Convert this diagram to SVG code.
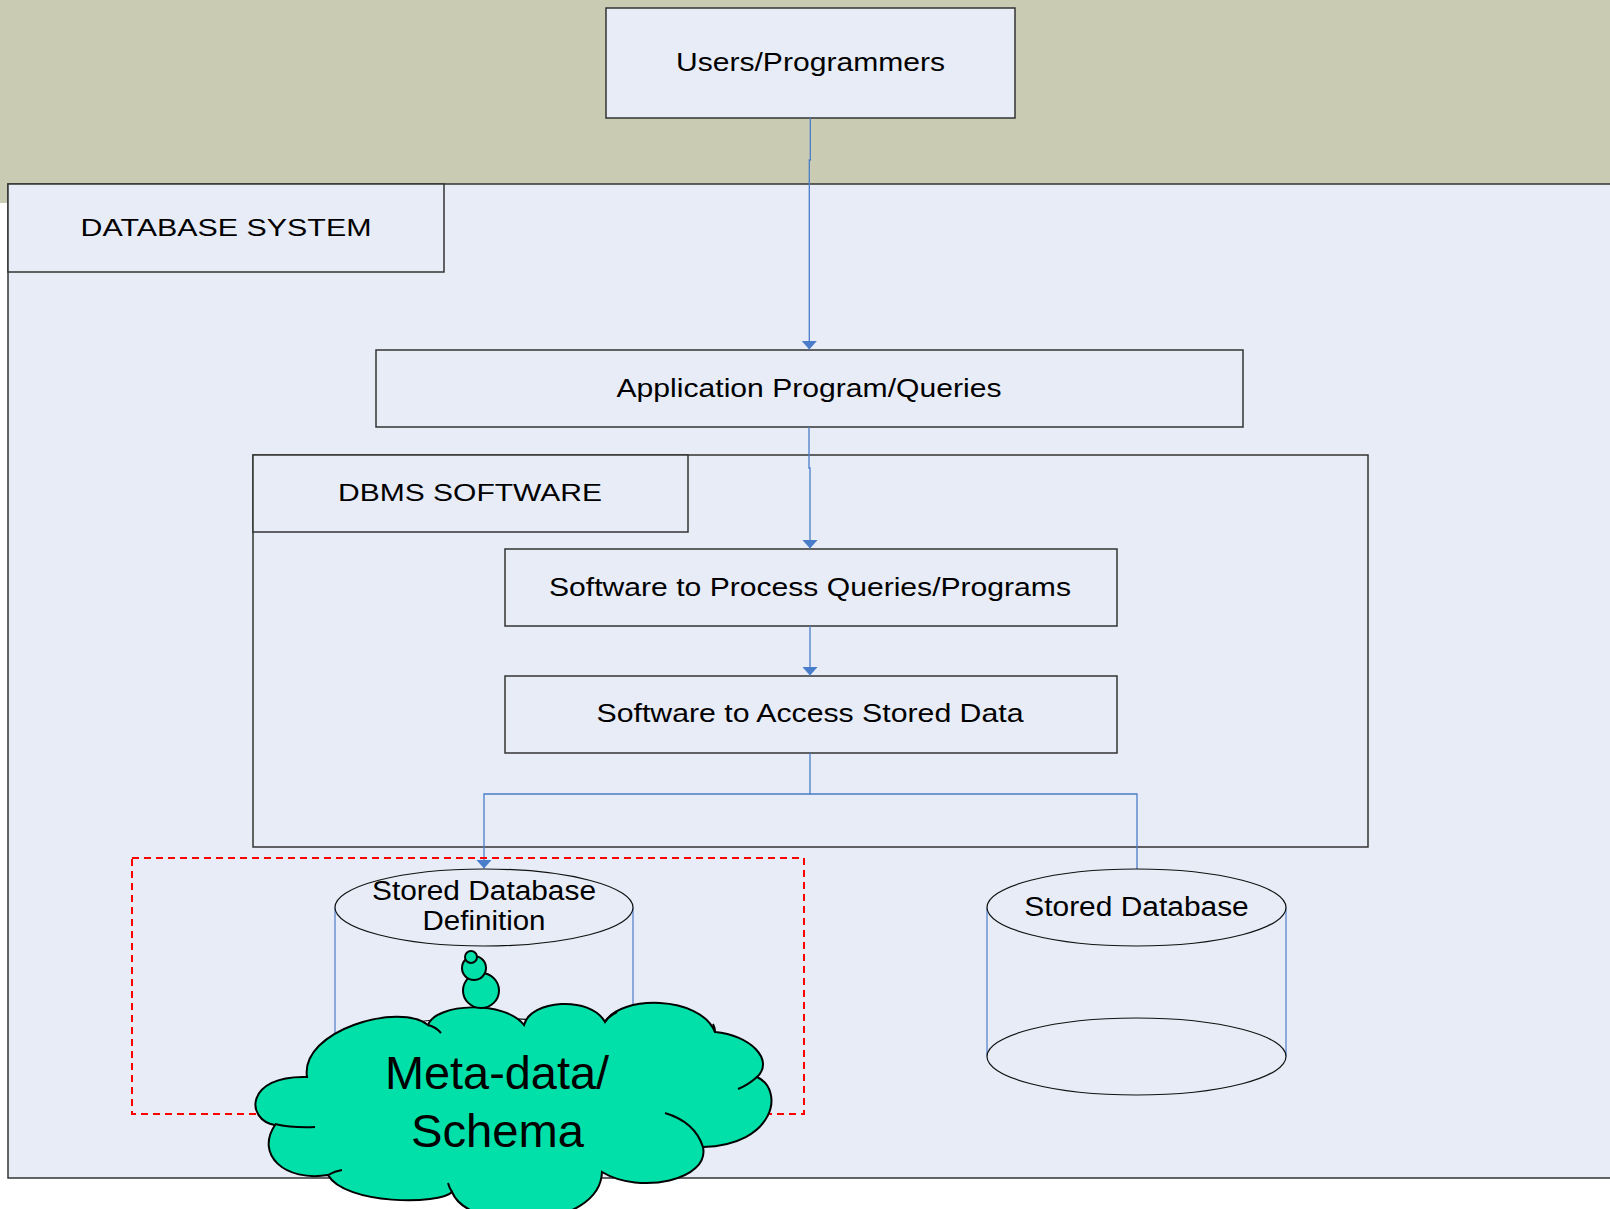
<svg xmlns="http://www.w3.org/2000/svg" width="1610" height="1209" viewBox="0 0 1610 1209">
<style>
.box{fill:#E7ECF7;stroke:#333;stroke-width:1.5}
.lbl{font-family:"Liberation Sans",Arial,sans-serif;fill:#000;text-anchor:middle}
.t25{font-size:25.5px}
.t27{font-size:27px}
.t46{font-size:46px}
.conn{fill:none;stroke:#4A7DC9;stroke-width:1.3}
.cylside{stroke:#5A86CC;stroke-width:1.3}
.cylend{fill:#E7ECF7;stroke:#111;stroke-width:1.2}
.cloud{fill:#00E0A8;stroke:#000;stroke-width:2}
.tail{fill:none;stroke:#000;stroke-width:2}
</style>
<defs>
<marker id="arr" viewBox="0 0 9 16" refX="9" refY="8" markerWidth="9" markerHeight="16" markerUnits="userSpaceOnUse" orient="auto">
<path d="M0 0 L9 8 L0 16 Z" fill="#4A7DC9"/>
</marker>
</defs>
<rect x="0" y="0" width="1610" height="1209" fill="#FFFFFF"/>
<rect x="0" y="0" width="1610" height="203" fill="#C9CCB3"/>

<g id="database-system">
<rect class="box" x="8" y="184" width="1612" height="994"/>
</g>
<g id="database-system-label">
<rect class="box" x="8" y="184" width="436" height="88"/>
<text class="lbl" x="226" y="235.5" font-size="24.7" textLength="291" lengthAdjust="spacingAndGlyphs">DATABASE SYSTEM</text>
</g>
<g id="users">
<rect class="box" x="606" y="8" width="409" height="110"/>
<text class="lbl t25" x="810.5" y="71" textLength="269" lengthAdjust="spacingAndGlyphs">Users/Programmers</text>
</g>
<g id="application">
<rect class="box" x="376" y="350" width="867" height="77"/>
<text class="lbl t25" x="809" y="396.5" textLength="385" lengthAdjust="spacingAndGlyphs">Application Program/Queries</text>
</g>
<g id="dbms-software">
<rect class="box" x="253" y="455" width="1115" height="392"/>
</g>
<g id="dbms-software-label">
<rect class="box" x="253" y="455" width="435" height="77"/>
<text class="lbl" x="470" y="501" font-size="24.7" textLength="264" lengthAdjust="spacingAndGlyphs">DBMS SOFTWARE</text>
</g>
<g id="process">
<rect class="box" x="505" y="549" width="612" height="77"/>
<text class="lbl t25" x="810" y="595.5" textLength="522" lengthAdjust="spacingAndGlyphs">Software to Process Queries/Programs</text>
</g>
<g id="access">
<rect class="box" x="505" y="676" width="612" height="77"/>
<text class="lbl t25" x="810" y="721.5" textLength="427" lengthAdjust="spacingAndGlyphs">Software to Access Stored Data</text>
</g>

<g id="connectors">
<path class="conn" d="M810.3 118 V160 H809.3 V349.5" marker-end="url(#arr)"/>
<path class="conn" d="M809 427 V468 H810 V548.5" marker-end="url(#arr)"/>
<path class="conn" d="M810 626 V675.5" marker-end="url(#arr)"/>
<path class="conn" d="M810 753 V794 H484 V868.5" marker-end="url(#arr)"/>
<path class="conn" d="M810 794 H1137 V869"/>
</g>

<g id="stored-definition">
<rect x="335" y="907.5" width="298" height="149" fill="#E7ECF7"/>
<line class="cylside" x1="335" y1="907.5" x2="335" y2="1056.5"/>
<line class="cylside" x1="633" y1="907.5" x2="633" y2="1056.5"/>
<ellipse class="cylend" cx="484" cy="1056.5" rx="149" ry="38.5"/>
<ellipse class="cylend" cx="484" cy="907.5" rx="149" ry="38.5"/>
<text class="lbl t27" x="484" y="900" textLength="224" lengthAdjust="spacingAndGlyphs">Stored Database</text>
<text class="lbl t27" x="484" y="929.5" textLength="123" lengthAdjust="spacingAndGlyphs">Definition</text>
</g>
<g id="stored-database">
<rect x="987" y="907.5" width="299" height="149" fill="#E7ECF7"/>
<line class="cylside" x1="987" y1="907.5" x2="987" y2="1056.5"/>
<line class="cylside" x1="1286" y1="907.5" x2="1286" y2="1056.5"/>
<ellipse class="cylend" cx="1136.5" cy="1056.5" rx="149.5" ry="38.5"/>
<ellipse class="cylend" cx="1136.5" cy="907.5" rx="149.5" ry="38.5"/>
<text class="lbl t27" x="1136.5" y="915.5" textLength="224.5" lengthAdjust="spacingAndGlyphs">Stored Database</text>
</g>

<g id="metadata-boundary">
<rect x="132" y="858" width="672" height="256" fill="none" stroke="#FF0000" stroke-width="2" stroke-dasharray="7 5"/>
</g>

<g id="metadata-cloud">
<path class="cloud" d="M307 1077 C300 1030 400 1002 428 1025 C436 1003 505 1000 524 1025 C530 1000 590 995 605 1022 C620 995 700 995 715 1032 C750 1035 775 1060 757 1077 C785 1090 775 1145 703 1147 C710 1180 640 1195 602 1172 C600 1230 470 1235 452 1192 C440 1205 345 1205 328 1175 C285 1182 255 1155 275 1125 C245 1120 245 1075 307 1077 Z"/>
<path class="tail" d="M428 1025 Q436 1027 441 1033"/>
<path class="tail" d="M275 1124 Q292 1128 315 1127"/>
<path class="tail" d="M328 1175 Q335 1171 342 1170"/>
<path class="tail" d="M452 1192 Q449 1187 448 1183"/>
<path class="tail" d="M703 1147 Q695 1122 665 1113"/>
<path class="tail" d="M757 1077 Q748 1085 738 1089"/>
<path class="tail" d="M605 1022 Q609 1016 617 1012"/>
<path class="tail" d="M715 1032 Q715 1028 713 1024"/>
<ellipse class="cloud" cx="481" cy="990.5" rx="18" ry="17.5"/>
<ellipse class="cloud" cx="474" cy="968" rx="12" ry="12"/>
<ellipse class="cloud" cx="471" cy="957" rx="6" ry="6"/>
<text class="lbl t46" x="497" y="1089" textLength="224" lengthAdjust="spacingAndGlyphs">Meta-data/</text>
<text class="lbl t46" x="497.5" y="1147" textLength="173" lengthAdjust="spacingAndGlyphs">Schema</text>
</g>
</svg>
